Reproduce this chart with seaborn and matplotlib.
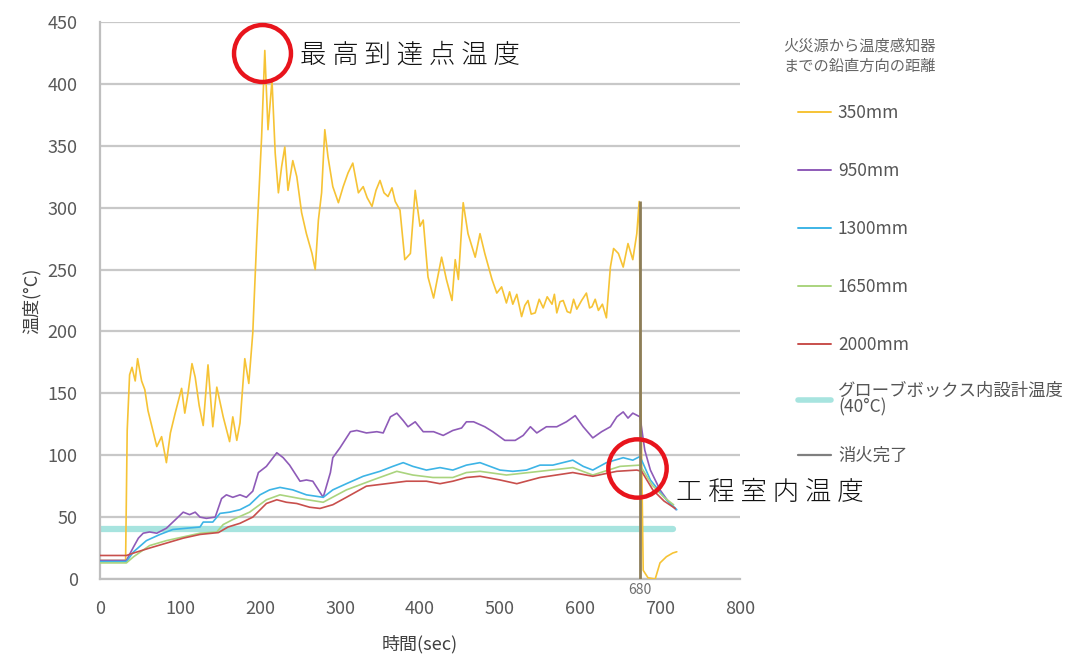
import numpy as np
import seaborn as sns
import matplotlib.pyplot as plt
from matplotlib.lines import Line2D

# Data
t_350 = [0, 32, 34, 37, 40, 44, 47, 52, 56, 60,
         66, 71, 77, 83, 88, 94, 102, 106, 110, 115,
         119, 124, 129, 135, 141, 146, 154, 162, 166, 171,
         175, 181, 186, 191, 192, 196, 202, 206, 210, 215,
         219, 223, 227, 231, 235, 241, 246, 252, 258, 265,
         269, 273, 277, 281, 285, 291, 298, 304, 310, 316,
         323, 329, 334, 340, 345, 350, 355, 360, 365, 369,
         375, 381, 388, 394, 400, 404, 410, 417, 427, 433,
         440, 444, 448, 454, 460, 469, 475, 481, 490, 496,
         502, 508, 512, 516, 521, 527, 531, 535, 539, 544,
         549, 554, 559, 565, 568, 571, 575, 579, 584, 588,
         592, 596, 602, 608, 612, 615, 619, 623, 628, 633,
         638, 642, 648, 654, 660, 666, 671, 674, 676, 679,
         685, 694, 700, 708, 716, 721]
v_350 = [15, 15, 120, 165, 171, 160, 178, 160, 153, 136,
         120, 107, 115, 94, 118, 134, 154, 134, 150, 174,
         163, 140, 124, 173, 123, 155, 131, 111, 131, 112,
         126, 178, 158, 199, 215, 276, 357, 427, 363, 403,
         344, 312, 333, 349, 314, 338, 325, 296, 279, 263,
         250, 290, 312, 363, 341, 317, 304, 317, 328, 336,
         312, 317, 308, 301, 314, 322, 312, 309, 316, 305,
         298, 258, 263, 314, 285, 290, 244, 227, 260, 242,
         225, 258, 242, 304, 279, 260, 279, 263, 242, 231,
         236, 223, 232, 222, 230, 212, 221, 225, 214, 215,
         226, 219, 228, 222, 230, 215, 224, 225, 216, 215,
         226, 218, 225, 231, 219, 220, 226, 217, 222, 211,
         252, 267, 263, 252, 271, 258, 279, 305, 150, 7,
         1, 0, 13, 18, 21, 22]

t_950 = [0, 33, 42, 48, 54, 62, 71, 83, 96, 104,
         112, 119, 125, 133, 144, 152, 158, 166, 175, 183,
         191, 198, 208, 221, 229, 237, 250, 258, 266, 279,
         288, 291, 300, 313, 321, 333, 346, 354, 363, 371,
         379, 385, 394, 404, 417, 429, 441, 452, 458, 467,
         481, 491, 506, 519, 529, 538, 546, 558, 571, 583,
         594, 604, 616, 627, 638, 646, 654, 660, 666, 675,
         681, 688, 700, 710, 720]
v_950 = [15, 15, 26, 33, 37, 38, 37, 41, 49, 54,
         52, 54, 50, 49, 50, 65, 68, 66, 68, 66,
         71, 86, 91, 102, 98, 92, 79, 80, 79, 66,
         86, 98, 106, 119, 120, 118, 119, 118, 131, 134,
         128, 123, 127, 119, 119, 116, 120, 122, 127, 127,
         123, 119, 112, 112, 116, 123, 118, 123, 123, 127,
         132, 123, 114, 119, 123, 131, 135, 130, 134, 131,
         104, 88, 72, 63, 56]

t_1300 = [0, 33, 42, 58, 75, 91, 108, 125, 129, 141,
          150, 162, 175, 187, 200, 212, 225, 241, 258, 279,
          291, 308, 329, 350, 366, 379, 391, 408, 425, 441,
          458, 475, 500, 516, 533, 550, 566, 591, 604, 616,
          633, 654, 666, 675, 688, 708, 721]
v_1300 = [14, 14, 22, 31, 36, 40, 41, 42, 46, 46,
          53, 54, 56, 60, 68, 72, 74, 72, 68, 66,
          72, 77, 83, 87, 91, 94, 91, 88, 90, 88,
          92, 94, 88, 87, 88, 92, 92, 96, 91, 88,
          94, 98, 96, 99, 80, 64, 56]

t_1650 = [0, 33, 42, 62, 83, 104, 125, 146, 154, 166,
          187, 208, 225, 250, 279, 308, 341, 371, 391, 416,
          441, 458, 475, 508, 550, 591, 616, 650, 675, 690,
          705, 717]
v_1650 = [13, 13, 18, 27, 31, 34, 37, 38, 44, 48,
          54, 64, 68, 65, 62, 72, 80, 87, 84, 82,
          82, 86, 87, 84, 87, 90, 84, 91, 92, 76,
          66, 60]

t_2000 = [0, 33, 42, 62, 83, 104, 125, 148, 160, 175,
          191, 208, 221, 233, 246, 262, 275, 291, 308, 333,
          358, 383, 408, 425, 441, 458, 475, 500, 521, 550,
          591, 616, 646, 671, 677, 691, 705, 719]
v_2000 = [19, 19, 21, 25, 29, 33, 36, 37.5, 42, 45,
          50, 61, 64, 62, 61, 58, 57, 60, 66, 75,
          77, 79, 79, 77, 79, 82, 83, 80, 77, 82,
          86, 83, 87, 88, 87, 72, 63, 57]

design_t = [0, 716]
design_temp = 40
extinguish_t = 675
extinguish_top = 305

series = [
    ('350mm', t_350, v_350, '#f6c335'),
    ('950mm', t_950, v_950, '#8e5bb8'),
    ('1300mm', t_1300, v_1300, '#3db4e6'),
    ('1650mm', t_1650, v_1650, '#aad47e'),
    ('2000mm', t_2000, v_2000, '#c84f4c'),
]
design_label = 'グローブボックス内設計温度\n(40°C)'

sns.set_style('white')
plt.rcParams['font.family'] = ['Noto Sans CJK JP', 'DejaVu Sans']

fig = plt.figure(figsize=(10.76, 6.64), dpi=100)
ax = fig.add_axes([100 / 1076, 85 / 664, 640 / 1076, 557 / 664])

# design temperature band and extinguish line
sns.lineplot(x=design_t, y=[design_temp] * len(design_t), ax=ax,
             color='#a7e4df', lw=4.5, label=design_label, zorder=2)
ax.vlines(extinguish_t, 0, extinguish_top, color='#8c7d58', lw=2, zorder=4)

for name, t, v, c in series:
    sns.lineplot(x=t, y=v, ax=ax, color=c, lw=1.2, label=name,
                 estimator=None, sort=False, zorder=3)

ax.set_xlim(0, 800)
ax.set_ylim(0, 450)
ax.set_xticks(range(0, 801, 100))
ax.set_yticks(range(0, 451, 50))
ax.yaxis.grid(True, color='#c8c8c8', lw=1.6)
ax.set_axisbelow(True)
for s in ['top', 'right']:
    ax.spines[s].set_visible(False)
for s in ['left', 'bottom']:
    ax.spines[s].set_color('#bfbfbf')
    ax.spines[s].set_linewidth(1.6)
ax.tick_params(axis='x', length=5, width=1.2, color='#bfbfbf',
               labelsize=13, labelcolor='#595959', pad=10)
ax.tick_params(axis='y', length=0, labelsize=13, labelcolor='#595959', pad=16)
ax.set_xlabel('時間(sec)', fontsize=13, color='#404040', labelpad=12)
ax.set_ylabel('温度(°C)', fontsize=13, color='#404040', labelpad=5)

ax.annotate('680', xy=(extinguish_t, 0), xytext=(0, -3), textcoords='offset points',
            ha='center', va='top', fontsize=10, color='#707070')

# red circles + annotations
ax.plot([203], [425], marker='o', ms=41, mfc='none', mec='#e8141c', mew=3.2,
        clip_on=False, zorder=6)
ax.plot([671], [90], marker='o', ms=42, mfc='none', mec='#e8141c', mew=3.2,
        clip_on=False, zorder=6)
ax.text(250, 424, '最 高 到 達 点 温 度', fontsize=19, color='#111111',
        fontweight='light', va='center', ha='left')
ax.text(720, 70, '工 程 室 内 温 度', fontsize=19, color='#111111',
        fontweight='light', va='center', ha='left', clip_on=False)

# legend
h, l = ax.get_legend_handles_labels()
ax.get_legend().remove()
names = [s[0] for s in series]
handles = [h[l.index(k)] for k in names]
fig.text(783 / 1076, 1 - 38 / 664, '火災源から温度感知器\nまでの鉛直方向の距離',
         fontsize=11, color='#666666', va='top', ha='left', linespacing=1.2)
leg_kw = dict(frameon=False, fontsize=12.5, handlelength=1.9, handletextpad=0.4,
              borderpad=0, borderaxespad=0, labelcolor='#555555')
leg = fig.legend(handles, names, loc='upper left',
                 bbox_to_anchor=(798 / 1076, 1 - 104 / 664), labelspacing=2.3, **leg_kw)
for line in leg.get_lines():
    line.set_linewidth(1.4)

leg2 = fig.legend([h[l.index(design_label)]], [design_label], loc='center left',
                  bbox_to_anchor=(798 / 1076, 1 - 399 / 664), **leg_kw)
leg2.get_lines()[0].set_linewidth(4)
leg2.get_texts()[0].set_linespacing(0.95)

leg3 = fig.legend([Line2D([], [], color='#7f7f7f', lw=1.6)], ['消火完了'],
                  loc='center left', bbox_to_anchor=(798 / 1076, 1 - 456 / 664), **leg_kw)

fig.savefig('out.png', dpi=100)
